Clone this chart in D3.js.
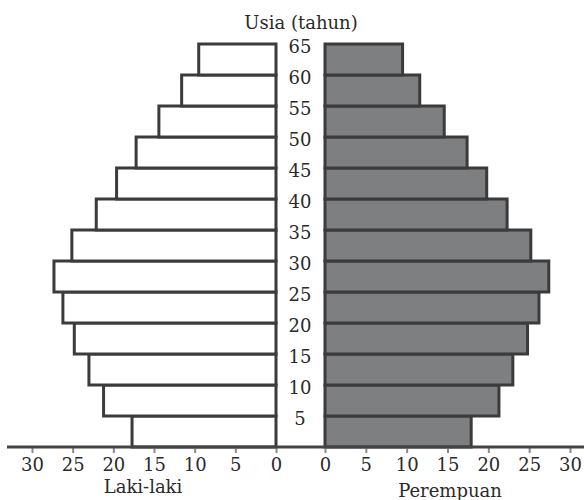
<!DOCTYPE html>
<html><head><meta charset="utf-8">
<script src="https://cdn.jsdelivr.net/npm/d3@7"></script>
<style>body{margin:0;background:#fff}svg{display:block}</style>
</head><body>
<svg id="c" width="584" height="500"></svg>
<script>
const ageStarts = [0,5,10,15,20,25,30,35,40,45,50,55,60];
const ageLabels = [5,10,15,20,25,30,35,40,45,50,55,60,65];
const maleValues = [17.7,21.2,23.0,24.8,26.2,27.3,25.1,22.1,19.6,17.2,14.4,11.6,9.5];
const femaleValues = [17.9,21.3,23.0,24.8,26.2,27.4,25.2,22.3,19.8,17.4,14.6,11.6,9.5];
const xTicks = [0,5,10,15,20,25,30];
const yTitle = "Usia (tahun)";
const leftTitle = "Laki-laki";
const rightTitle = "Perempuan";

const svg = d3.select("#c");
const font = "'DejaVu Serif', serif";
const stroke = "#3b3b3b";

const y = d3.scaleLinear([0,65],[447,44]);
const xL = d3.scaleLinear([0,30],[276,32]);
const xR = d3.scaleLinear([0,30],[325,570]);

// left bars
svg.append("g").selectAll("rect").data(ageStarts).join("rect")
  .attr("x",(d,i)=>xL(maleValues[i]))
  .attr("width",(d,i)=>xL(0)-xL(maleValues[i]))
  .attr("y",d=>y(d+5))
  .attr("height",d=>y(d)-y(d+5))
  .attr("fill","#fff").attr("stroke",stroke).attr("stroke-width",3);

// right bars
svg.append("g").selectAll("rect").data(ageStarts).join("rect")
  .attr("x",xR(0))
  .attr("width",(d,i)=>xR(femaleValues[i])-xR(0))
  .attr("y",d=>y(d+5))
  .attr("height",d=>y(d)-y(d+5))
  .attr("fill","#7e7f81").attr("stroke",stroke).attr("stroke-width",3);

// age labels
svg.append("g").selectAll("text").data(ageLabels).join("text")
  .attr("x",300).attr("y",d=>y(d)+9)
  .attr("text-anchor","middle").attr("font-family",font).attr("font-size",18).attr("fill","#2a2a2a")
  .text(d=>d);

svg.append("text").attr("x",301).attr("y",29).attr("text-anchor","middle")
  .attr("font-family",font).attr("font-size",18).attr("fill","#2a2a2a").text(yTitle);

// axes
function styleAxis(g){
  g.select(".domain").remove();
  g.selectAll(".tick line").attr("stroke","#8a8a8a").attr("stroke-width",2);
  g.selectAll(".tick text").attr("font-family",font).attr("font-size",18).attr("fill","#2a2a2a");
}
svg.append("g").attr("transform","translate(0,447)")
  .call(d3.axisBottom(xL).tickValues(xTicks).tickSize(6).tickPadding(5).tickFormat(d3.format("d")))
  .call(styleAxis);
svg.append("g").attr("transform","translate(0,447)")
  .call(d3.axisBottom(xR).tickValues(xTicks).tickSize(6).tickPadding(5).tickFormat(d3.format("d")))
  .call(styleAxis);

svg.append("line").attr("x1",7).attr("x2",584).attr("y1",447).attr("y2",447)
  .attr("stroke","#444").attr("stroke-width",3);

svg.append("text").attr("x",143).attr("y",493).attr("text-anchor","middle")
  .attr("font-family",font).attr("font-size",18).attr("fill","#2a2a2a").text(leftTitle);
svg.append("text").attr("x",450).attr("y",497).attr("text-anchor","middle")
  .attr("font-family",font).attr("font-size",18).attr("fill","#2a2a2a").text(rightTitle);
</script>
</body></html>
